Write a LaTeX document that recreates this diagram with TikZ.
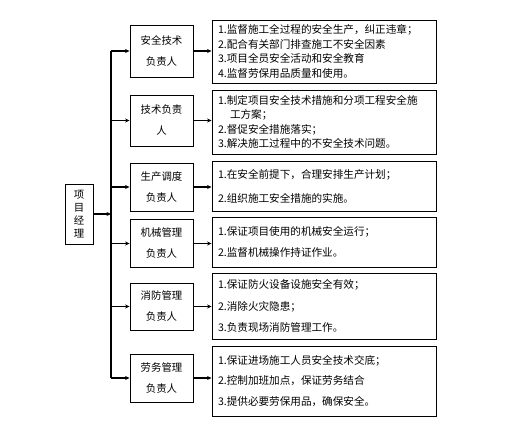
\documentclass[tikz,border=0pt]{standalone}
\usepackage{fontspec}
\newfontfamily\cjk{Noto Sans CJK SC}
\usetikzlibrary{arrows.meta,shadows}
\begin{document}
\begin{tikzpicture}[x=1pt,y=-1pt,
  box/.style={draw,line width=0.9pt,fill=white,inner sep=0pt,
    drop shadow={shadow xshift=0.9pt,shadow yshift=-0.9pt,opacity=1,fill=black}},
  mbox/.style={box,minimum width=63pt,align=center,
    font={\cjk\fontsize{10.4}{21}\selectfont}},
  rbox/.style={box,minimum width=224pt,text width=212pt,inner xsep=6pt,align=left},
  arr/.style={line width=1.5pt,-{Stealth[length=4.5pt,width=4pt]}},
  bus/.style={line width=1.2pt}]
\useasboundingbox (0,0) rectangle (524,425);
% project manager
\node[box,minimum width=28pt,minimum height=60pt,align=center,
  font={\cjk\fontsize{10.4}{13}\selectfont}] (pm) at (79,214) {项\\目\\经\\理};
% middle boxes
\node[mbox,minimum height=52pt] (m1) at (161.5,51) {安全技术\\负责人};
\node[mbox,minimum height=51pt] (m2) at (161.5,120.5) {技术负责\\人};
\node[mbox,minimum height=48pt] (m3) at (161.5,187) {生产调度\\负责人};
\node[mbox,minimum height=48pt] (m4) at (161.5,243.5) {机械管理\\负责人};
\node[mbox,minimum height=47pt] (m5) at (161.5,306.5) {消防管理\\负责人};
\node[mbox,minimum height=48pt] (m6) at (161.5,378) {劳务管理\\负责人};
% right boxes
\node[rbox,minimum height=63pt,font={\cjk\fontsize{10.6}{14.5}\selectfont}] (r1) at (324,51.5)
  {1.监督施工全过程的安全生产，纠正违章；\\2.配合有关部门排查施工不安全因素\\3.项目全员安全活动和安全教育\\4.监督劳保用品质量和使用。};
\node[rbox,minimum height=64pt,font={\cjk\fontsize{10.6}{14.5}\selectfont}] (r2) at (324,122)
  {1.制定项目安全技术措施和分项工程安全施\\\hspace*{12pt}工方案；\\2.督促安全措施落实；\\3.解决施工过程中的不安全技术问题。};
\node[rbox,minimum height=50pt,font={\cjk\fontsize{10.6}{24}\selectfont}] (r3) at (324,186)
  {1.在安全前提下，合理安排生产计划；\\2.组织施工安全措施的实施。};
\node[rbox,minimum height=50pt,font={\cjk\fontsize{10.6}{21}\selectfont}] (r4) at (324,242)
  {1.保证项目使用的机械安全运行；\\2.监督机械操作持证作业。};
\node[rbox,minimum height=66pt,font={\cjk\fontsize{10.6}{21.5}\selectfont}] (r5) at (324,306)
  {1.保证防火设备设施安全有效；\\2.消除火灾隐患；\\3.负责现场消防管理工作。};
\node[rbox,minimum height=70pt,font={\cjk\fontsize{10.6}{20.5}\selectfont}] (r6) at (324,381)
  {1.保证进场施工人员安全技术交底；\\2.控制加班加点，保证劳务结合\\3.提供必要劳保用品，确保安全。};
% bus
\coordinate (bt) at (111,51);
\coordinate (bb) at (111,378);
\draw[bus] (bt) -- (bb);
\draw[arr] (pm.east) -- (pm.east -| bt);
\foreach \i in {1,...,6}{
  \draw[arr] (m\i.west -| bt) -- (m\i.west);
  \draw[arr] (m\i.east) -- (m\i.east -| r\i.west);
}
\end{tikzpicture}
\end{document}
